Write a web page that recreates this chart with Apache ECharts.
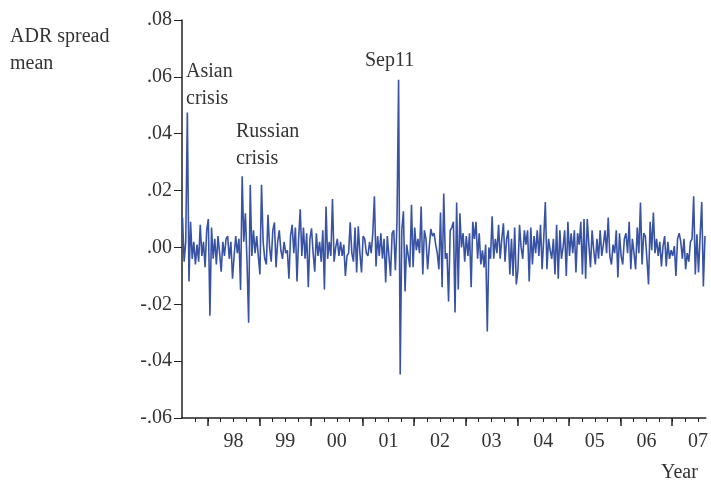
<!DOCTYPE html>
<html>
<head>
<meta charset="utf-8">
<script src="https://cdn.jsdelivr.net/npm/echarts@6/dist/echarts.min.js"></script>
<style>
html,body{margin:0;padding:0;background:#fff;}
#chart{width:711px;height:483px;}
</style>
</head>
<body>
<div id="chart"></div>
<script>
// Time axis: first observation and spacing (years)
const startYear = 1997.51;
const stepYear = 1 / 32;

// ADR spread mean in order
const spreadSeg1 = [0.0105,-0.005,0.002,0.0475,-0.012,0.009,-0.004,0.002,-0.006,0.001,-0.005,0.008,-0.003,0.002,-0.007,0.006,0.010,-0.024,0.007,-0.004,0.003,-0.006,0.004,-0.002,-0.0085,0.002,-0.003,0.003,0.004,-0.004,0.002,-0.011,-0.003,0.004,-0.002,0.003,-0.015,0.025,0.002,0.012,-0.005,-0.0265,0.022,-0.003,0.006,-0.002,0.004];
const spreadSeg2 = [-0.003,-0.0095,0.022,0.002,-0.004,-0.006,0.0115,0.000,-0.005,0.006,0.0088,-0.007,0.002,0.006,-0.001,-0.004,0.002,-0.002,-0.001,-0.011,0.004,0.008,-0.002,0.007,-0.012,0.003,0.0134,-0.003,0.007,-0.004,0.005,-0.014,0.003,0.0067,-0.002,-0.0085,0.005,-0.003,0.002,-0.005,0.006,-0.0148,0.0144,-0.004,0.002,-0.003,0.017,-0.005];
const spreadSeg3 = [0.000,0.003,-0.003,0.002,-0.003,0.001,-0.010,-0.003,-0.002,0.0088,-0.002,-0.005,0.007,-0.0088,0.0074,-0.002,-0.0088,0.004,0.003,-0.002,-0.003,0.002,-0.002,0.005,0.018,-0.0067,0.004,-0.003,0.005,-0.004,0.003,-0.0123,0.004,-0.003,-0.010,0.005,0.006,-0.008,0.0088,0.059,-0.0447,0.006,0.0127,-0.0155,0.001,-0.003,-0.007,0.015];
const spreadSeg4 = [-0.007,0.007,-0.001,0.003,-0.002,0.0144,-0.0095,0.006,0.003,-0.0077,0.000,0.0065,0.004,0.005,0.001,-0.002,-0.0077,0.0123,-0.014,0.019,-0.004,-0.002,-0.019,0.006,0.007,0.009,-0.0229,0.0158,-0.0148,0.012,0.000,0.005,-0.005,0.004,-0.003,0.005,-0.014,0.009,0.003,0.009,-0.004,0.005,-0.006,-0.001,-0.007,0.001,-0.0296,0.000];
const spreadSeg5 = [-0.004,0.011,-0.004,0.003,-0.002,0.008,-0.004,0.003,0.0085,-0.005,0.003,0.006,-0.0095,0.003,-0.010,0.007,-0.013,-0.008,0.008,0.000,-0.004,0.006,0.001,0.006,-0.012,0.007,-0.006,0.004,-0.002,0.006,-0.003,0.008,-0.0077,0.003,0.016,-0.0077,0.003,-0.001,-0.004,0.003,-0.0095,0.008,-0.011,0.006,-0.004,0.000,0.006,-0.010];
const spreadSeg6 = [0.009,-0.003,0.005,-0.002,0.006,-0.0088,0.005,0.001,0.009,-0.0095,0.010,-0.011,0.010,0.001,-0.007,0.006,-0.001,-0.006,0.003,-0.004,0.006,-0.003,0.001,0.006,-0.002,0.0105,-0.003,-0.006,0.001,-0.002,0.006,-0.0106,0.005,-0.003,-0.006,0.003,0.005,-0.002,0.009,-0.0077,0.003,-0.002,-0.0077,0.007,-0.002,0.0158,-0.006,0.005];
const spreadSeg7 = [0.004,-0.004,-0.013,0.009,-0.001,0.0123,-0.002,0.003,-0.003,0.002,-0.0067,0.0005,0.004,-0.0067,0.002,-0.004,-0.001,-0.003,0.0005,-0.010,0.003,0.005,0.002,-0.004,0.003,-0.0077,-0.002,-0.005,0.002,0.003,0.018,-0.0095,0.0046,-0.0088,0.004,0.016,-0.0137,0.004];

const yearTicks = [1998,1999,2000,2001,2002,2003,2004,2005,2006,2007];
const yearLabels = ['98','99','00','01','02','03','04','05','06','07'];

const spread = [].concat(spreadSeg1, spreadSeg2, spreadSeg3, spreadSeg4, spreadSeg5, spreadSeg6, spreadSeg7);
const seriesData = spread.map((v, i) => [startYear + i * stepYear, v]);
const labelPositions = yearTicks.map(y => y + 0.5);
const quarterTicks = [];
for (let y = 1997.75; y < 2007.65; y += 0.25) quarterTicks.push(+y.toFixed(2));

const FONT = 'Liberation Serif';
const chart = echarts.init(document.getElementById('chart'), null, {renderer: 'canvas'});
chart.setOption({
  animation: false,
  backgroundColor: '#fff',
  grid: {left: 182, right: 1, top: 20, bottom: 65, containLabel: false},
  xAxis: [{
    type: 'value', min: 1997.5, max: 2007.65, position: 'bottom',
    axisLine: {show: true, onZero: false, lineStyle: {color: '#222', width: 1.5}},
    axisTick: {show: true, customValues: yearTicks, length: 8, inside: false, lineStyle: {color: '#222', width: 1.5}},
    axisLabel: {show: true, customValues: labelPositions, margin: 14, color: '#333', fontFamily: FONT, fontSize: 20,
      formatter: v => yearLabels[Math.round(v - 0.5) - 1998]},
    splitLine: {show: false}
  }, {
    type: 'value', min: 1997.5, max: 2007.65, position: 'bottom',
    axisLine: {show: false, onZero: false},
    axisTick: {show: true, customValues: quarterTicks, length: 4, lineStyle: {color: '#222', width: 1}},
    axisLabel: {show: false},
    splitLine: {show: false}
  }],
  yAxis: {
    type: 'value', min: -0.06, max: 0.08, interval: 0.02,
    axisLine: {show: true, onZero: false, lineStyle: {color: '#222', width: 1.5}},
    axisTick: {show: true, length: 8, lineStyle: {color: '#222', width: 1}},
    axisLabel: {margin: 10, color: '#333', fontFamily: FONT, fontSize: 20,
      formatter: v => { const s = Math.abs(v).toFixed(2).replace(/^0/, ''); return v < -1e-9 ? '-' + s : s; }},
    splitLine: {show: false}
  },
  series: [{
    type: 'line', xAxisIndex: 0, data: seriesData, showSymbol: false, symbol: 'none',
    lineStyle: {color: '#3953a4', width: 1.6}, z: 3
  }],
  graphic: [
    {type: 'text', left: 10, top: 23, style: {text: 'ADR spread\nmean', fontFamily: FONT, fontSize: 20, lineHeight: 27, fill: '#333'}},
    {type: 'text', left: 186, top: 58, style: {text: 'Asian\ncrisis', fontFamily: FONT, fontSize: 20, lineHeight: 27, fill: '#333'}},
    {type: 'text', left: 236, top: 118, style: {text: 'Russian\ncrisis', fontFamily: FONT, fontSize: 20, lineHeight: 27, fill: '#333'}},
    {type: 'text', left: 365, top: 47, style: {text: 'Sep11', fontFamily: FONT, fontSize: 20, lineHeight: 27, fill: '#333'}},
    {type: 'text', left: 661, top: 459, style: {text: 'Year', fontFamily: FONT, fontSize: 20, lineHeight: 27, fill: '#333'}}
  ]
});
</script>
</body>
</html>
